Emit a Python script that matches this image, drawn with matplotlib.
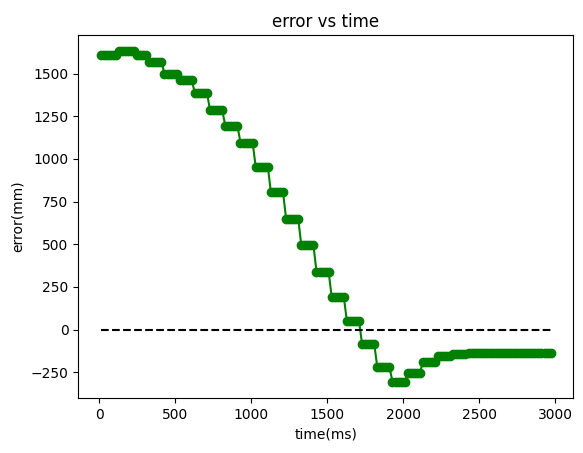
import numpy as np
import matplotlib
matplotlib.use("Agg")
import matplotlib.pyplot as plt

# step levels (mm) and the start time (ms) of each step
step_start = [10, 120, 250, 330, 430, 520, 620, 720, 820, 920, 1020, 1120, 1220, 1320,
              1420, 1520, 1620, 1720, 1820, 1920, 2020, 2120, 2220, 2320, 2420]
step_level = [1610, 1630, 1610, 1570, 1500, 1460, 1385, 1285, 1195, 1095, 955, 805, 650, 495,
              340, 190, 50, -85, -220, -305, -255, -190, -155, -145, -135]
t_end = 2980
sample_ms = 20

time = np.arange(step_start[0], t_end + 1, sample_ms)
idx = np.searchsorted(step_start, time, side="right") - 1
error = np.array(step_level)[idx]

fig, ax = plt.subplots(figsize=(5.83, 4.53), dpi=100)
ax.plot(time, error, color="green", marker="o", markersize=6)
ax.plot([time[0], time[-1]], [0, 0], "k--")
ax.set_title("error vs time")
ax.set_xlabel("time(ms)")
ax.set_ylabel("error(mm)")
fig.subplots_adjust(left=0.134, right=0.983, bottom=0.121, top=0.923)
fig.savefig("out.png")
